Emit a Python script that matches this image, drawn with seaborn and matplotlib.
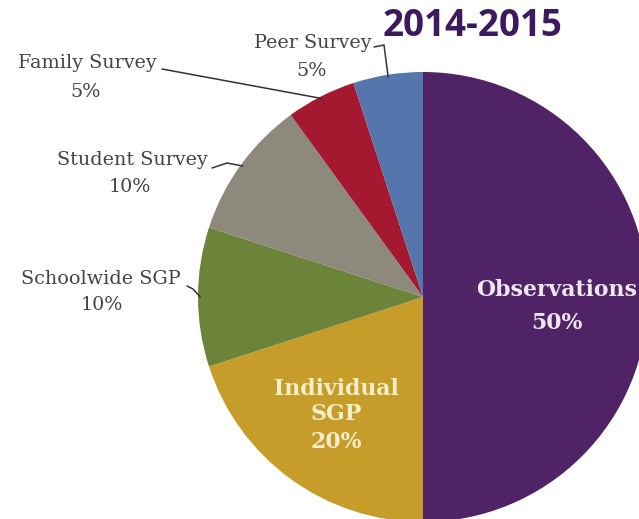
import numpy as np
import matplotlib
matplotlib.use("Agg")
import matplotlib.pyplot as plt
import seaborn as sns

# ---- data ----
categories = ["Observations", "Individual SGP", "Schoolwide SGP",
              "Student Survey", "Family Survey", "Peer Survey"]
shares = [50, 20, 10, 10, 5, 5]
pct_labels = ["50%", "20%", "10%", "10%", "5%", "5%"]
title_text = "2014-2015"

colors = ["#4F2366", "#C69D2A", "#6C8439", "#8D897D", "#A4192F", "#5476AC"]

sns.set_theme(style="white")
sns.set_palette(colors)

W, H = 639, 519
fig = plt.figure(figsize=(W / 100, H / 100), dpi=100)
ax = fig.add_axes([0, 0, 1, 1])

cx, cy, R = 423, H - 297, 225
wedges, _ = ax.pie(shares, colors=sns.color_palette(colors), startangle=90,
                   counterclock=False, center=(cx, cy), radius=R,
                   wedgeprops=dict(linewidth=0), frame=True)
ax.set_xlim(0, W)
ax.set_ylim(0, H)
ax.set_aspect("equal")
ax.axis("off")

def mid(w, rf=1.0):
    a = np.deg2rad((w.theta1 + w.theta2) / 2)
    return cx + R * rf * np.cos(a), cy + R * rf * np.sin(a)

def iy(y):
    return H - y

serif = "DejaVu Serif"
tcol = "#444444"
fs_out = 13.8

# outside labels: (name_x, name_y, pct_x, pct_y, leader path points before wedge)
outside = {
    5: (313, 43, 312, 71, [(374, 47), (384, 45)]),
    4: (87, 63, 86, 92, [(162, 69)]),
    3: (132, 160, 130, 187, [(212, 168), (227, 163)]),
    2: (101, 279, 102, 305, [(187, 286), (193, 289)]),
}
for i, (nx, ny, px, py, pts) in outside.items():
    ax.text(nx, iy(ny), categories[i], ha="center", va="center",
            family=serif, fontsize=fs_out, color=tcol)
    ax.text(px, iy(py), pct_labels[i], ha="center", va="center",
            family=serif, fontsize=fs_out, color=tcol)
    mx, my = mid(wedges[i], 0.99)
    xs = [p[0] for p in pts] + [mx]
    ys = [iy(p[1]) for p in pts] + [my]
    ax.plot(xs, ys, color="#333333", lw=1.1, solid_capstyle="round")

# inside labels
fs_in = 15.8
ax.text(557, iy(290), categories[0], ha="center", va="center", family=serif,
        fontsize=fs_in, fontweight="bold", color="#EFE6F2")
ax.text(557, iy(323), pct_labels[0], ha="center", va="center", family=serif,
        fontsize=fs_in, fontweight="bold", color="#EFE6F2")
ax.text(336, iy(389), "Individual", ha="center", va="center", family=serif,
        fontsize=fs_in, fontweight="bold", color="#F7EDC6")
ax.text(336, iy(414), "SGP", ha="center", va="center", family=serif,
        fontsize=fs_in, fontweight="bold", color="#F7EDC6")
ax.text(336, iy(442), pct_labels[1], ha="center", va="center", family=serif,
        fontsize=fs_in, fontweight="bold", color="#F7EDC6")

ax.text(473, iy(26), title_text, ha="center", va="center", family="Open Sans",
        fontsize=26.5, fontweight="bold", color="#3B1A5E")

fig.savefig("out.png", dpi=100, facecolor="white")
